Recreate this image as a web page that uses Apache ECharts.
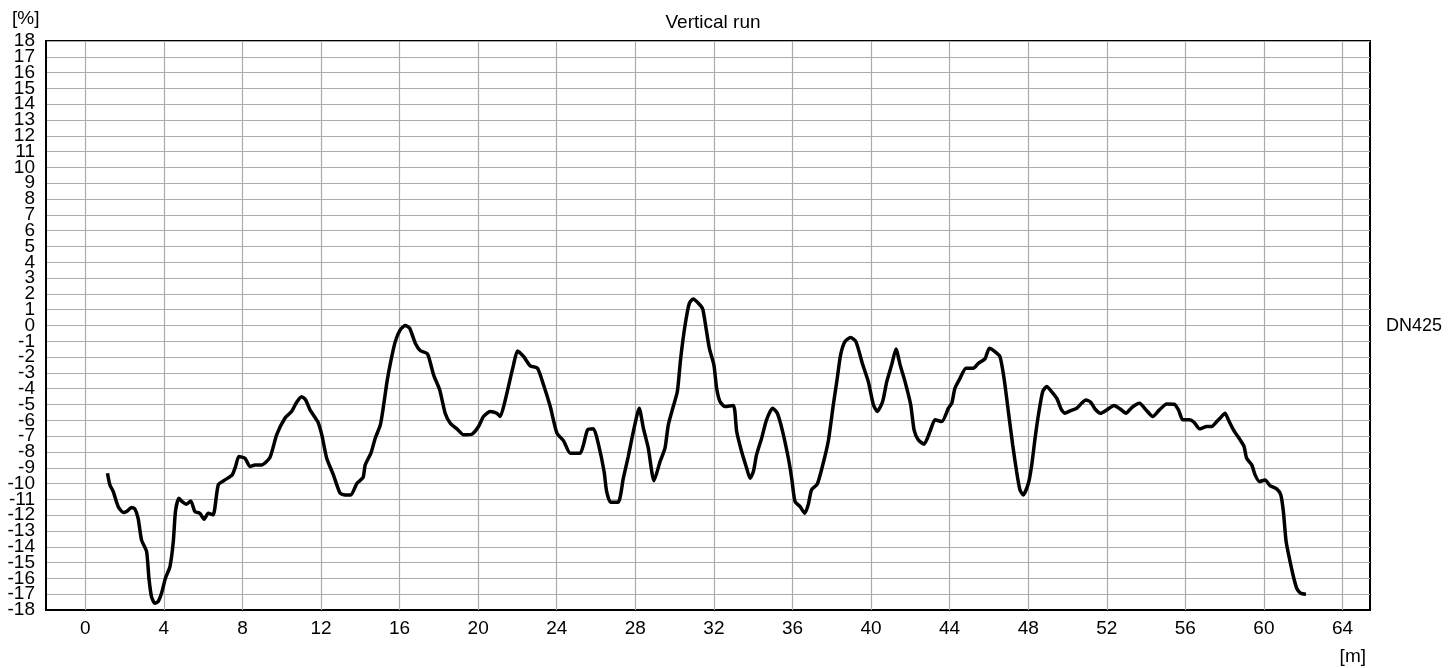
<!DOCTYPE html>
<html>
<head>
<meta charset="utf-8">
<script src="https://cdn.jsdelivr.net/npm/echarts@6/dist/echarts.min.js"></script>
<style>
html,body{margin:0;padding:0;background:#fff;}
#chart{width:1456px;height:668px;}
</style>
</head>
<body>
<div id="chart"></div>
<script>
var distance = [
1.13,1.25,1.42,1.67,1.93,2.1,2.35,2.52,2.69,2.86,3.12,3.24,3.37,3.54,3.71,3.88,4.08,4.31,4.48,4.59,4.76,4.93,5.15,5.37,5.58,5.83,6.05,6.26,6.51,6.77,7.11,7.48,7.65,7.82,8.13,8.38,8.64,8.97,9.4,9.74,10.16,10.5,10.76,11.01,11.22,11.44,11.83,12.04,12.29,12.63,12.97,13.22,13.52,
13.83,14.14,14.25,14.54,14.76,15.02,15.19,15.36,15.53,15.78,16.03,16.29,16.51,16.8,17.05,17.42,17.73,18.04,18.32,18.58,18.92,19.26,19.68,20.02,20.27,20.61,20.95,21.12,21.38,21.6,21.8,22.0,22.31,22.65,23.02,23.33,23.67,24.01,24.35,24.69,25.19,25.36,25.57,25.87,26.13,
26.41,26.54,26.74,27.13,27.39,27.64,27.9,28.2,28.41,28.66,28.95,29.26,29.51,29.68,29.93,30.14,30.31,30.53,30.75,30.95,31.21,31.43,31.6,31.77,32.0,32.14,32.31,32.56,32.99,33.07,33.16,33.41,33.67,33.84,34.01,34.17,34.43,34.68,34.99,35.23,35.5,35.79,35.96,36.13,36.38,36.63,36.8,36.97,37.26,37.48,37.82,38.08,38.28,38.45,38.67,38.96,39.23,
39.58,39.86,40.12,40.32,40.59,40.8,41.05,41.27,41.48,41.73,42.02,42.19,42.41,42.7,43.0,43.26,43.6,43.94,44.11,44.27,44.53,44.83,45.21,45.46,45.8,46.02,46.26,46.56,46.77,46.99,47.21,47.41,47.58,47.75,48.01,48.18,48.35,48.52,48.74,48.94,49.19,49.45,49.7,49.87,50.13,50.47,50.72,50.94,51.18,51.4,51.69,
52.0,52.37,52.68,52.98,53.27,53.66,54.0,54.34,54.68,55.05,55.43,55.65,55.87,56.21,56.44,56.72,57.09,57.34,57.6,57.8,58.02,58.19,58.45,58.79,58.99,59.12,59.38,59.55,59.77,60.06,60.31,60.65,60.86,60.99,61.13,61.33,61.5,61.67,61.87,62.14
];
var grade = [
-9.35,-10.08,-10.5,-11.45,-11.83,-11.77,-11.52,-11.6,-12.2,-13.56,-14.3,-15.99,-17.15,-17.57,-17.46,-16.94,-15.99,-15.25,-13.67,-11.77,-10.93,-11.14,-11.31,-11.1,-11.77,-11.88,-12.26,-11.88,-11.98,-10.08,-9.77,-9.45,-8.92,-8.29,-8.4,-8.92,-8.82,-8.82,-8.35,-6.92,-5.87,-5.44,-4.85,-4.5,-4.71,-5.34,-6.08,-6.92,-8.4,-9.45,-10.61,-10.72,-10.72,
-9.98,-9.62,-8.82,-8.08,-7.13,-6.29,-5.02,-3.55,-2.39,-1.02,-0.28,0.0,-0.17,-1.12,-1.58,-1.8,-3.12,-4.07,-5.55,-6.18,-6.54,-6.92,-6.88,-6.39,-5.76,-5.44,-5.55,-5.76,-4.71,-3.55,-2.49,-1.61,-1.96,-2.55,-2.7,-3.76,-5.13,-6.81,-7.3,-8.08,-8.08,-7.55,-6.6,-6.54,-7.55,
-9.24,-10.5,-11.18,-11.18,-9.66,-8.29,-6.71,-5.23,-6.5,-7.76,-9.83,-8.61,-7.76,-6.29,-5.13,-4.18,-2.07,0.0,1.41,1.68,1.41,1.05,-0.17,-1.44,-2.49,-3.97,-4.81,-5.13,-5.06,-5.44,-6.71,-7.97,-9.03,-9.66,-9.24,-8.19,-7.13,-5.97,-5.23,-5.55,-6.71,-8.4,-9.66,-11.14,-11.45,-11.88,-11.35,-10.4,-10.04,-9.13,-7.34,-5.02,-3.34,-1.86,-1.02,-0.76,-1.02,
-2.49,-3.55,-5.02,-5.44,-4.81,-3.55,-2.49,-1.48,-2.49,-3.55,-5.02,-6.6,-7.24,-7.51,-6.71,-5.97,-6.08,-5.23,-4.92,-3.97,-3.34,-2.7,-2.7,-2.39,-2.11,-1.44,-1.61,-1.96,-3.34,-5.44,-7.55,-9.24,-10.4,-10.72,-9.98,-8.82,-7.13,-5.66,-4.18,-3.86,-4.18,-4.6,-5.34,-5.55,-5.4,-5.23,-4.92,-4.71,-4.85,-5.28,-5.55,
-5.34,-5.06,-5.28,-5.55,-5.19,-4.92,-5.34,-5.76,-5.34,-4.96,-4.98,-5.34,-5.97,-5.97,-6.12,-6.54,-6.39,-6.39,-6.08,-5.82,-5.55,-5.97,-6.6,-7.24,-7.66,-8.4,-8.82,-9.45,-9.87,-9.77,-10.13,-10.34,-10.72,-11.77,-13.67,-14.93,-15.88,-16.62,-16.94,-17.0
];
var xTicks = [0,4,8,12,16,20,24,28,32,36,40,44,48,52,56,60,64];
var yMin = -18, yMax = 18;
var seriesName = 'DN425';
var titleText = 'Vertical run';
var yUnit = '[%]';
var xUnit = '[m]';

var pts = distance.map(function(d,i){return [d, grade[i]];});
var FONT = 'Liberation Sans, Arial, sans-serif';
var yLabelBase = {margin: 11, fontFamily: FONT, fontSize: 19, color: '#000'};
var chart = echarts.init(document.getElementById('chart'));
chart.setOption({
  animation: false,
  backgroundColor: '#fff',
  title: {text: titleText, left: 708, top: 8, textAlign: 'center',
    textStyle: {fontFamily: FONT, fontSize: 19, fontWeight: 'normal', color: '#000'}},
  grid: {left: 46, right: 86, top: 41, bottom: 58, show: true, borderColor: '#000', borderWidth: 2, containLabel: false},
  xAxis: {type: 'value', min: -2, max: 65.4, interval: 2,
    axisLine: {show: true, onZero: false, lineStyle: {color: '#000', width: 2}},
    axisTick: {show: false},
    splitLine: {show: false},
    axisLabel: {margin: 9, fontFamily: FONT, fontSize: 19, color: '#000',
      showMinLabel: false, showMaxLabel: false,
      formatter: function(v){ return xTicks.indexOf(v) >= 0 ? String(v) : ''; }}
  },
  yAxis: [
    {type: 'value', min: yMin, max: yMax, interval: 1,
      axisLine: {show: true, onZero: false, lineStyle: {color: '#000', width: 2}},
      axisTick: {show: false},
      splitLine: {show: true, lineStyle: {color: '#ababab', width: 1.2}},
      axisLabel: Object.assign({showMinLabel: false, showMaxLabel: false}, yLabelBase)
    },
    {type: 'value', min: yMin, max: yMax, interval: 1, position: 'left', offset: 0,
      axisLine: {show: false}, axisTick: {show: false}, splitLine: {show: false},
      axisLabel: Object.assign({showMinLabel: true, showMaxLabel: true,
        formatter: function(v){ return (v === yMin || v === yMax) ? String(v) : ''; }}, yLabelBase)
    }
  ],
  graphic: [
    {type: 'text', left: 12, top: 9, style: {text: yUnit, font: '19px ' + FONT, fill: '#000'}},
    {type: 'text', right: 90, top: 647, style: {text: xUnit, font: '19px ' + FONT, fill: '#000'}},
    {type: 'text', left: 1386, top: 317, style: {text: seriesName, font: '18px ' + FONT, fill: '#000'}}
  ],
  series: [
    {type: 'line', name: 'grid', data: [], silent: true, z: 1,
      markLine: {silent: true, symbol: 'none', label: {show: false},
        lineStyle: {color: '#ababab', width: 1.2, type: 'solid'},
        emphasis: {disabled: true},
        data: xTicks.map(function(t){return {xAxis: t};})}
    },
    {type: 'line', name: seriesName, data: pts, showSymbol: false, smooth: 0.2, z: 5,
      lineStyle: {color: '#000', width: 3.5}}
  ]
});
</script>
</body>
</html>
